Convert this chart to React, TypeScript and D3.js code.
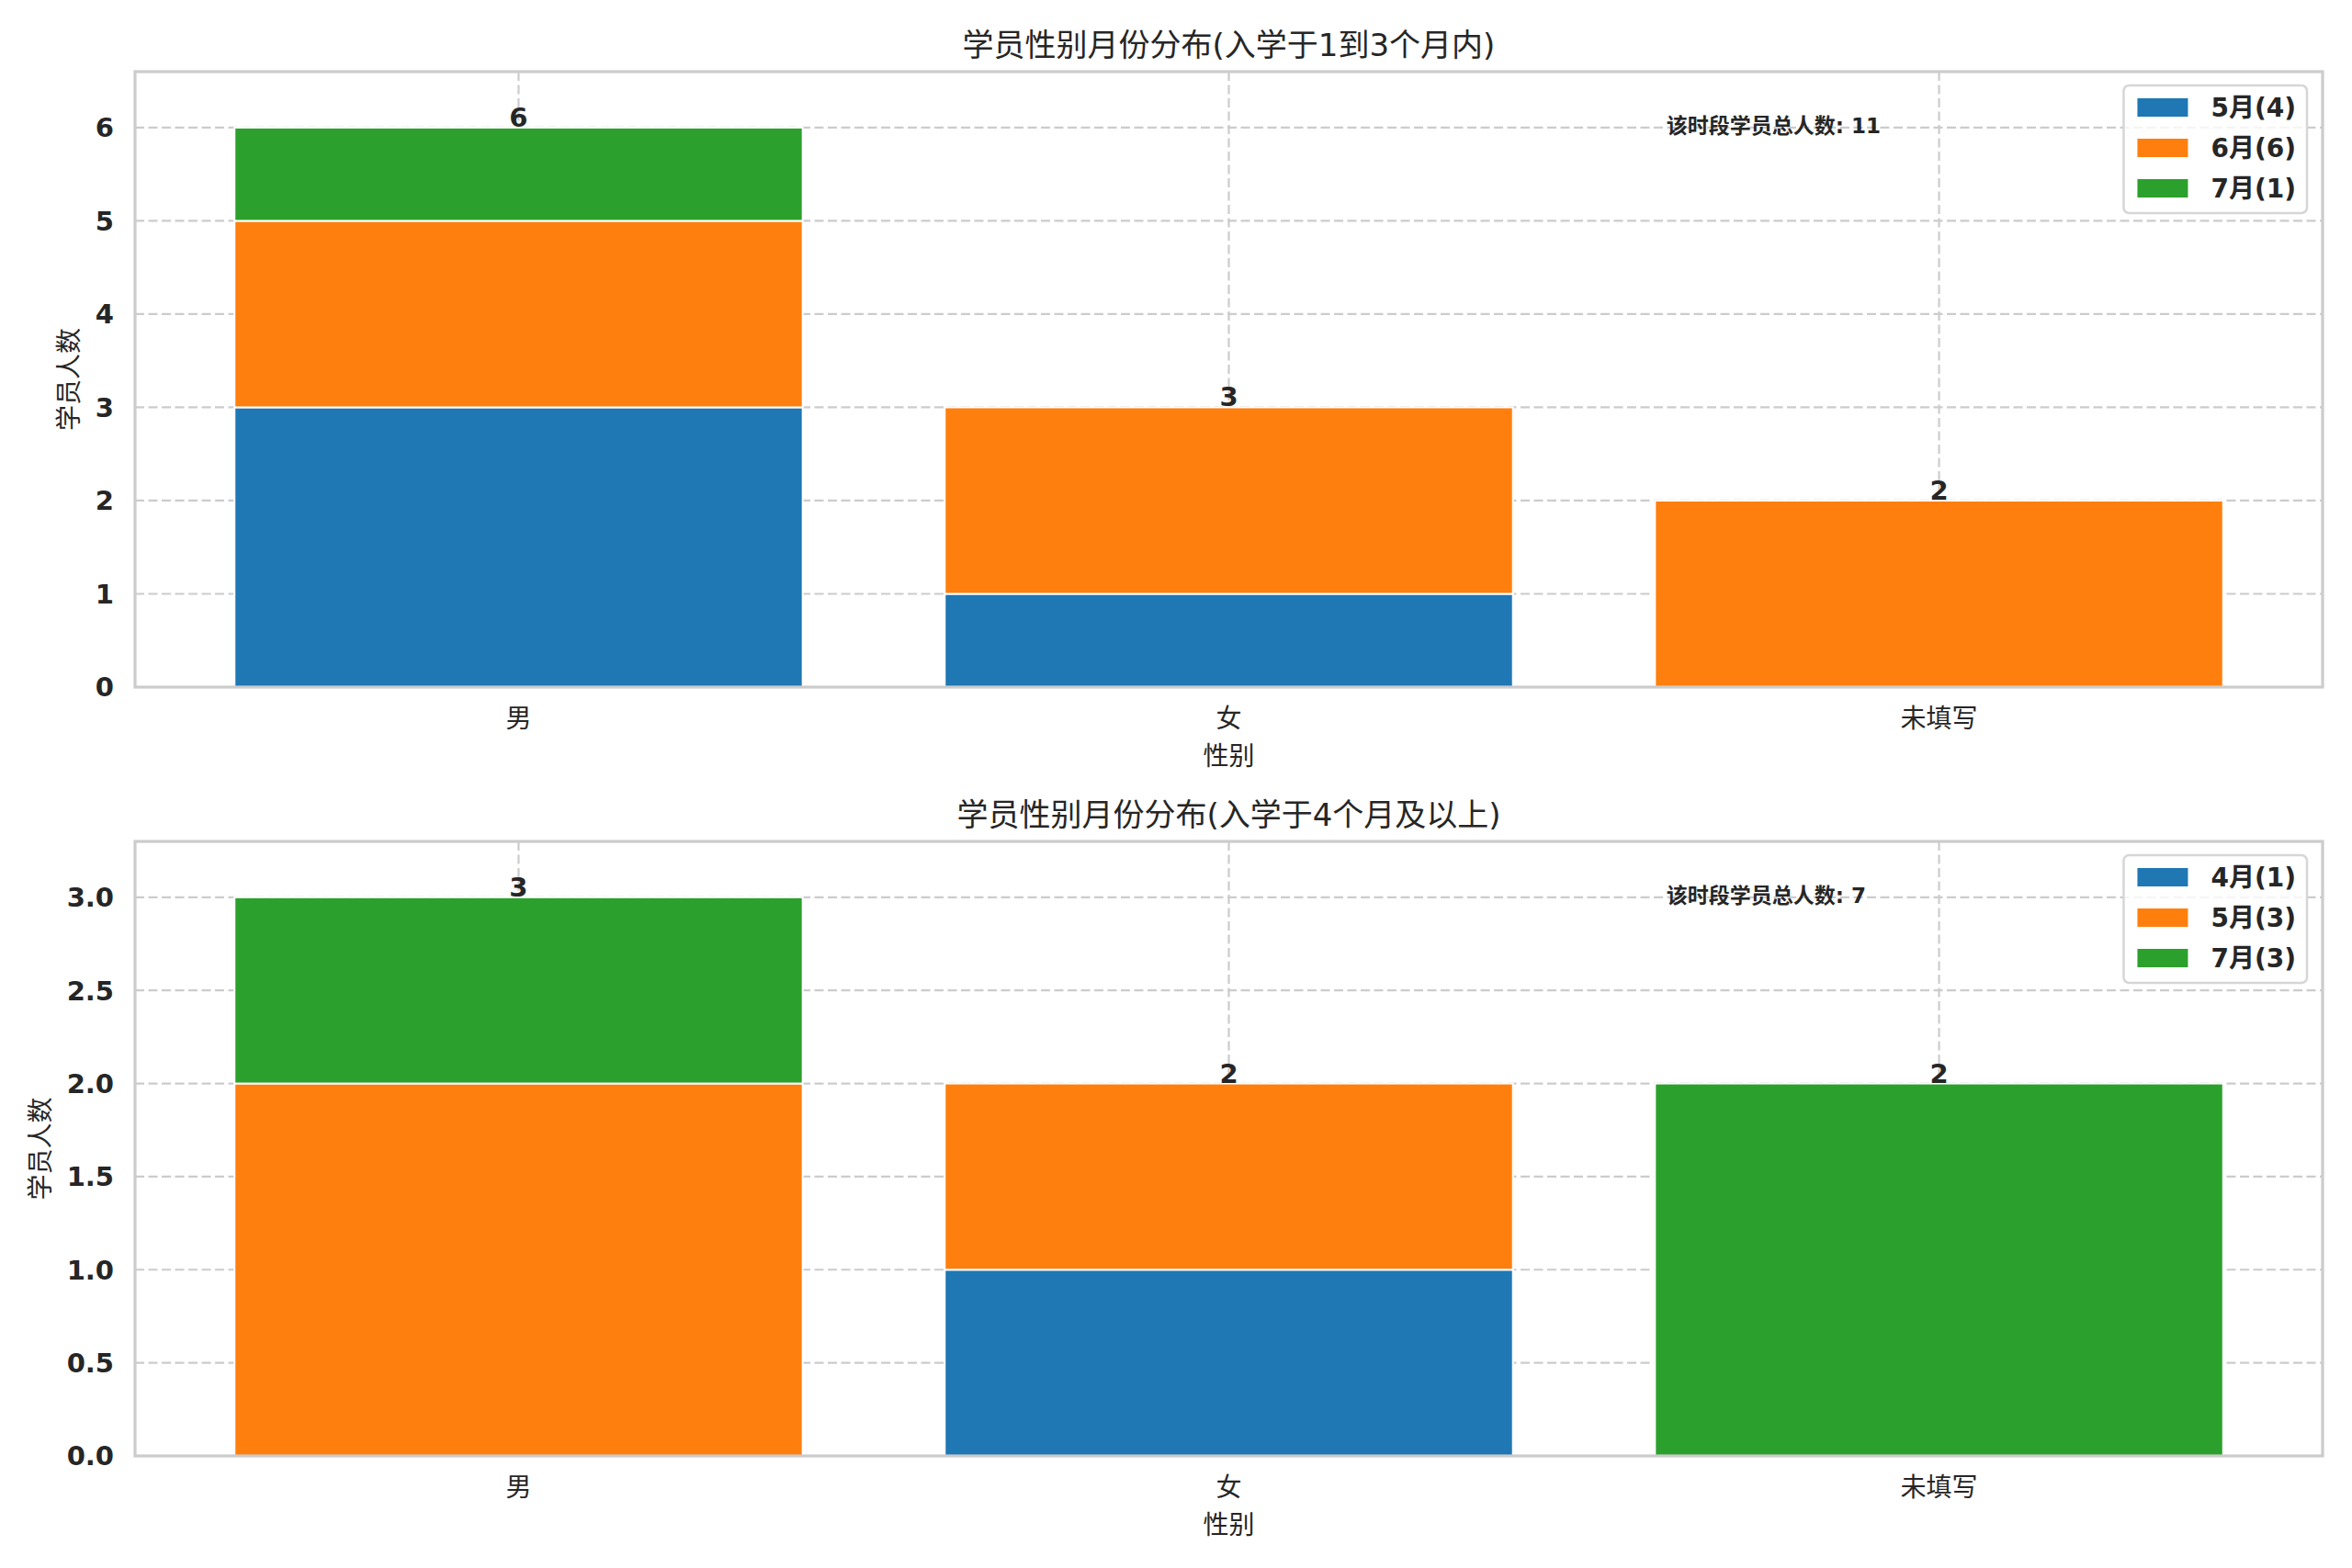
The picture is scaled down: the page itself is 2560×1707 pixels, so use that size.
import React, { useRef, useEffect } from 'react';
import * as d3 from 'd3';

// categories on the x axis
const genders = ['男', '女', '未填写'];

// panel 1: enrolled 1-3 months
const titleTop = '学员性别月份分布(入学于1到3个月内)';
const monthsTop = ['5月', '6月', '7月'];
const countsTop = [
  [3, 1, 0],
  [2, 2, 2],
  [1, 0, 0],
];
const ticksTop = [0, 1, 2, 3, 4, 5, 6];

// panel 2: enrolled 4+ months
const titleBottom = '学员性别月份分布(入学于4个月及以上)';
const monthsBottom = ['4月', '5月', '7月'];
const countsBottom = [
  [0, 1, 0],
  [2, 1, 0],
  [1, 0, 2],
];
const ticksBottom = [0, 0.5, 1, 1.5, 2, 2.5, 3];

const xAxisLabel = '性别';
const yAxisLabel = '学员人数';
const totalLabel = '该时段学员总人数';

const colors = ['#1f77b4', '#ff7f0e', '#2ca02c'];
const FONT = '"DejaVu Sans", "Noto Sans CJK SC", sans-serif';

const W = 2560;
const H = 1707;

interface PanelOpts {
  top: number;
  bottom: number;
  title: string;
  months: string[];
  counts: number[][];
  ticks: number[];
  tickFormat: (v: number) => string;
}

function drawPanel(svg: d3.Selection<SVGSVGElement, unknown, null, undefined>, opts: PanelOpts) {
  const left = 147;
  const right = 2528;
  const { top, bottom, title, months, counts, ticks, tickFormat } = opts;
  const innerW = right - left;
  const innerH = bottom - top;

  const totals = genders.map((_, i) => d3.sum(counts, s => s[i]));
  const maxTotal = d3.max(totals)!;

  // matplotlib-like: bars of width 0.8, 5% margins
  const x = d3.scaleLinear().domain([-0.54, genders.length - 1 + 0.54]).range([0, innerW]);
  const y = d3.scaleLinear().domain([0, maxTotal * 1.1]).range([innerH, 0]);

  const g = svg.append('g').attr('transform', `translate(${left},${top})`);

  // grid
  g.append('g')
    .selectAll('line')
    .data(ticks)
    .join('line')
    .attr('x1', 0)
    .attr('x2', innerW)
    .attr('y1', d => y(d))
    .attr('y2', d => y(d))
    .style('stroke', '#cccccc')
    .style('stroke-width', 2.2)
    .style('stroke-dasharray', '10,4.5');

  g.append('g')
    .selectAll('line')
    .data(genders)
    .join('line')
    .attr('x1', (_, i) => x(i))
    .attr('x2', (_, i) => x(i))
    .attr('y1', 0)
    .attr('y2', innerH)
    .style('stroke', '#cccccc')
    .style('stroke-width', 2.2)
    .style('stroke-dasharray', '10,4.5');

  // stacked bars
  const barW = x(0.8) - x(0);
  counts.forEach((series, si) => {
    g.append('g')
      .selectAll('rect')
      .data(series)
      .join('rect')
      .attr('x', (_, i) => x(i) - barW / 2)
      .attr('y', (d, i) => {
        const base = d3.sum(counts.slice(0, si), s => s[i]);
        return y(base + d);
      })
      .attr('width', barW)
      .attr('height', d => y(0) - y(d))
      .style('fill', colors[si])
      .style('stroke', d => (d > 0 ? '#ffffff' : 'none'))
      .style('stroke-width', 2);
  });

  // spines
  g.append('rect')
    .attr('x', 0)
    .attr('y', 0)
    .attr('width', innerW)
    .attr('height', innerH)
    .style('fill', 'none')
    .style('stroke', '#cccccc')
    .style('stroke-width', 3.2);

  // totals above bars
  g.append('g')
    .selectAll('text')
    .data(totals)
    .join('text')
    .attr('x', (_, i) => x(i))
    .attr('y', d => y(d) - 1)
    .attr('text-anchor', 'middle')
    .style('font-family', FONT)
    .style('font-size', '29px')
    .style('font-weight', 'bold')
    .style('fill', '#262626')
    .text(d => d);

  // y ticks
  const yTicks = g.append('g')
    .selectAll('text')
    .data(ticks)
    .join('text')
    .attr('x', -23)
    .attr('y', d => y(d))
    .attr('dy', '0.36em')
    .attr('text-anchor', 'end')
    .style('font-family', FONT)
    .style('font-size', '29px')
    .style('font-weight', 'bold')
    .style('fill', '#262626')
    .text(d => tickFormat(d));

  let maxTickW = 0;
  yTicks.each(function () {
    maxTickW = Math.max(maxTickW, (this as SVGTextElement).getComputedTextLength());
  });

  // x ticks
  g.append('g')
    .selectAll('text')
    .data(genders)
    .join('text')
    .attr('x', (_, i) => x(i))
    .attr('y', innerH + 34)
    .attr('dy', '0.36em')
    .attr('text-anchor', 'middle')
    .style('font-family', FONT)
    .style('font-size', '28px')
    .style('fill', '#262626')
    .text(d => d);

  // axis labels
  g.append('text')
    .attr('x', innerW / 2)
    .attr('y', innerH + 75)
    .attr('dy', '0.36em')
    .attr('text-anchor', 'middle')
    .style('font-family', FONT)
    .style('font-size', '28px')
    .style('fill', '#262626')
    .text(xAxisLabel);

  g.append('text')
    .attr('transform', `translate(${-23 - maxTickW - 29},${innerH / 2}) rotate(-90)`)
    .attr('dy', '0.36em')
    .attr('text-anchor', 'middle')
    .style('font-family', FONT)
    .style('font-size', '28px')
    .style('fill', '#262626')
    .text(yAxisLabel);

  // title
  svg.append('text')
    .attr('x', left + innerW / 2)
    .attr('y', top - 29)
    .attr('dy', '0.36em')
    .attr('text-anchor', 'middle')
    .style('font-family', FONT)
    .style('font-size', '34px')
    .style('fill', '#262626')
    .text(title);

  // total annotation (axes fraction 0.7, 0.9)
  g.append('text')
    .attr('x', innerW * 0.7)
    .attr('y', innerH * 0.1)
    .style('font-family', FONT)
    .style('font-size', '23px')
    .style('font-weight', 'bold')
    .style('fill', '#262626')
    .text(`${totalLabel}: ${d3.sum(totals)}`);

  // legend
  const fs = 28;
  const labels = months.map((m, i) => `${m}(${d3.sum(counts[i])})`);
  const leg = g.append('g');
  const box = leg.append('rect');
  const items = leg.selectAll('g.item')
    .data(labels)
    .join('g')
    .attr('class', 'item')
    .attr('transform', (_, i) => `translate(0,${i * 44})`);
  items.append('rect')
    .attr('x', 0)
    .attr('y', -10)
    .attr('width', 55)
    .attr('height', 20)
    .style('fill', (_, i) => colors[i]);
  const txt = items.append('text')
    .attr('x', 55 + 25)
    .attr('dy', '0.36em')
    .style('font-family', FONT)
    .style('font-size', `${fs}px`)
    .style('font-weight', 'bold')
    .style('fill', '#262626')
    .text(d => d);
  let maxLabW = 0;
  txt.each(function () {
    maxLabW = Math.max(maxLabW, (this as SVGTextElement).getComputedTextLength());
  });
  const boxW = 15 + 55 + 25 + maxLabW + 12;
  const boxH = 139;
  box.attr('x', -15)
    .attr('y', -24)
    .attr('width', boxW)
    .attr('height', boxH)
    .attr('rx', 6)
    .style('fill', 'rgba(255,255,255,0.8)')
    .style('stroke', '#d6d6d6')
    .style('stroke-width', 2.5);
  leg.attr('transform', `translate(${innerW - 17 - boxW + 15},${15 + 24})`);
}

const App: React.FC = () => {
  const svgRef = useRef<SVGSVGElement>(null);

  useEffect(() => {
    if (!svgRef.current) return;
    document.body.style.margin = '0';
    document.body.style.overflow = 'hidden';

    const svg = d3.select(svgRef.current);
    svg.selectAll('*').remove();

    svg.append('rect').attr('width', W).attr('height', H).style('fill', '#ffffff');

    drawPanel(svg, {
      top: 78,
      bottom: 748,
      title: titleTop,
      months: monthsTop,
      counts: countsTop,
      ticks: ticksTop,
      tickFormat: d3.format('d'),
    });
    drawPanel(svg, {
      top: 916,
      bottom: 1585,
      title: titleBottom,
      months: monthsBottom,
      counts: countsBottom,
      ticks: ticksBottom,
      tickFormat: d3.format('.1f'),
    });
  }, []);

  return <svg ref={svgRef} width={W} height={H} style={{ display: 'block' }} />;
};

export default App;
